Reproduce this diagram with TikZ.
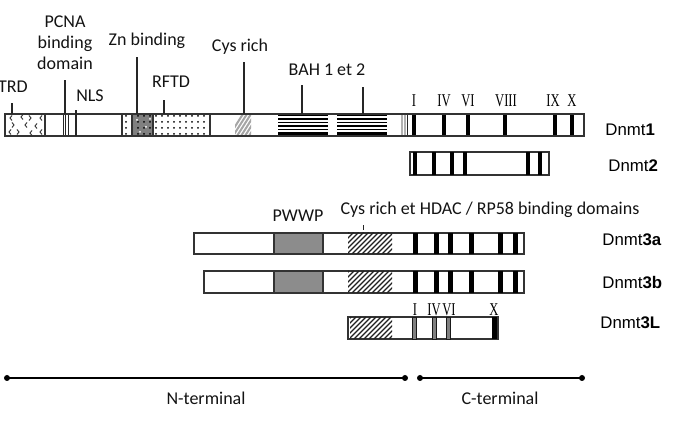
\documentclass[tikz,border=0pt]{standalone}
\usepackage{fontspec}
\usepackage{graphicx}
\setmainfont{Carlito}
\newfontfamily\dnmtfont{Liberation Sans}
\newfontfamily\motiffont{Liberation Serif}
\usetikzlibrary{patterns}

\tikzset{
  bar/.style={draw=gray!40!black, line width=0.6pt},
  band/.style={fill=black},
  greyband/.style={fill=black!50, draw=gray!20!black, line width=0.4pt},
  leader/.style={draw=gray!30!black, line width=0.6pt},
  hatch/.style={draw=gray!25!black, line width=0.6pt},
  lbl/.style={font=\fontsize{9}{10.5}\selectfont, text=gray!15!black, inner sep=0pt, align=center},
  protein/.style={font=\dnmtfont\fontsize{8.4}{9}\selectfont, anchor=west, inner sep=0pt},
  motif/.style={font=\motiffont\fontsize{9}{9}\selectfont, inner sep=0pt},
  term/.style={line width=1pt, draw=black},
}
% condensed roman numerals above the motifs
\newcommand{\motifnum}[1]{\scalebox{0.7}[1]{#1}}

\begin{document}
\begin{tikzpicture}[x=0.5pt, y=-0.5pt]
\useasboundingbox (0,0) rectangle (682,422);

%% Dnmt1
\draw[bar, fill=white] (5,114) rectangle (584,136);
% TRD
\draw[bar] (5,114) rectangle (45,136);
\foreach \x/\y/\d in {10/118/1,21/117/1,31/118/-1,40/118/1,14/125/-1,25/125/1,35/126/1,9/132/1,19/132/-1,30/133/1,40/132/1}
  \draw[gray!45!black, line width=0.5pt] (\x+2*\d,\y-2.5) -- (\x,\y) -- (\x+2*\d,\y+2.5);
% PCNA binding
\foreach \x in {63,65.5,68} \draw[gray!30!black, line width=0.5pt] (\x,114) -- (\x,136);
% Zn binding and RFTD
\draw[bar, pattern=dots] (122,114) rectangle (132,136);
\fill[black!50] (132,114) rectangle (153,136);
\fill[pattern=dots] (132,114) rectangle (153,136);
\foreach \x/\y in {137/120,146/127,140/132,150/119} \fill[white] (\x,\y) circle (1);
\draw[bar] (132,114) rectangle (153,136);
\draw[bar, pattern=dots] (153,114) rectangle (210,136);
% Cys rich
\begin{scope}
  \clip (235,114) rectangle (251,136);
  \foreach \x in {229,233,...,249} \draw[gray!70, line width=1pt] (\x,136) -- ++(14,-22);
\end{scope}
% BAH 1 et 2
\foreach \a/\b in {278/328,337/387} {
  \foreach \y in {115.5,119,122.5,126,129.5,133,135}
    \draw[line width=0.9pt] (\a,\y) -- (\b,\y);
}
\foreach \x in {402,405} \draw[gray!60, line width=0.8pt] (\x,114) -- (\x,136);
\draw[gray!30!black, line width=0.4pt] (407.5,114) -- (407.5,136);
\foreach \x in {412,442,466,503,553,570} \fill[band] (\x,114) rectangle ++(4,22);
\draw[bar] (5,114) rectangle (584,136);

% domain labels
\node[lbl] (trd) at (13,87) {TRD};
\node[lbl] (pcna) at (65,43) {PCNA\\binding\\domain};
\node[lbl] (nls) at (90,96) {NLS};
\node[lbl] (zn) at (147,41) {Zn binding};
\node[lbl] (rftd) at (171,82) {RFTD};
\node[lbl] (cys) at (240,47) {Cys rich};
\node[lbl] (bah) at (327,70) {BAH 1 et 2};
\draw[leader] (12,114) coordinate (trd-pin) -- ++(0,-11);
\draw[leader] (65,114) coordinate (pcna-pin) -- ++(0,-34);
\draw[leader] (76,136) coordinate (nls-pin) -- ++(0,-26);
\draw[leader] (137,114) coordinate (zn-pin) -- ++(0,-57);
\draw[leader] (164,114) coordinate (rftd-pin) -- ++(0,-14);
\draw[leader] (244,114) coordinate (cys-pin) -- ++(0,-52);
\draw[leader] (302,114) coordinate (bah1-pin) -- ++(0,-29);
\draw[leader] (363,114) coordinate (bah2-pin) -- ++(0,-27);

% motif numbers
\foreach \x/\m in {414/I,444/IV,468/VI,506/VIII,553/IX,572/X}
  \node[motif] (m1-\m) at (\x,101) {\motifnum{\m}};

%% Dnmt2
\draw[bar, fill=white] (410,152) rectangle (549,175);
\foreach \x in {413,432,450,463,526,538} \fill[band] (\x,152) rectangle ++(4,23);

%% Dnmt3a and Dnmt3b
\foreach \l/\t/\b in {194/233/254, 204/271/293} {
  \draw[bar, fill=white] (\l,\t) rectangle (524,\b);
  \draw[bar, fill=black!45] (274,\t) rectangle (323,\b);
  \begin{scope}
    \clip (348,\t) rectangle (392,\b);
    \foreach \x in {322,327,...,392} \draw[hatch] (\x,\b) -- ++(22,-22);
  \end{scope}
  \foreach \x in {413,434,448,469,498,513} \fill[band] (\x,\t) rectangle (\x+4.5,\b);
}
\draw[leader, line width=0.5pt] (363,230) -- (363,225);
\node[lbl] (pwwp) at (298,216) {PWWP};
\node[lbl] (hdac) at (490,210) {Cys rich et HDAC / RP58 binding domains};

%% Dnmt3L
\draw[bar, fill=white] (348,317) rectangle (498,339);
\begin{scope}
  \clip (350,317) rectangle (392,339);
  \foreach \x in {324,329,...,392} \draw[hatch] (\x,339) -- ++(22,-22);
\end{scope}
\foreach \x in {412,432,446} \draw[greyband] (\x,317) rectangle ++(4.5,22);
\fill[band] (492,317) rectangle (497,339);
\foreach \x/\m in {415/I,434/IV,449/VI,494/X}
  \node[motif] (m3l-\m) at (\x,310) {\motifnum{\m}};

%% protein names
\node[protein] (dnmt1) at (605,130) {Dnmt\textbf{1}};
\node[protein] (dnmt2) at (608,166) {Dnmt\textbf{2}};
\node[protein] (dnmt3a) at (602,240) {Dnmt\textbf{3a}};
\node[protein] (dnmt3b) at (602,283) {Dnmt\textbf{3b}};
\node[protein] (dnmt3l) at (600,323) {Dnmt\textbf{3L}};

%% N- and C-terminal parts
\coordinate (n-start) at (7,378);
\coordinate (n-end) at (405,378);
\coordinate (c-start) at (420,378);
\coordinate (c-end) at (582,378);
\draw[term] (n-start) -- (n-end);
\draw[term] (c-start) -- (c-end);
\foreach \p in {n-start,n-end,c-start,c-end} \fill (\p) circle (3);
\node[lbl] (nterm) at (206,398) {N-terminal};
\node[lbl] (cterm) at (500,398) {C-terminal};

\end{tikzpicture}
\end{document}
